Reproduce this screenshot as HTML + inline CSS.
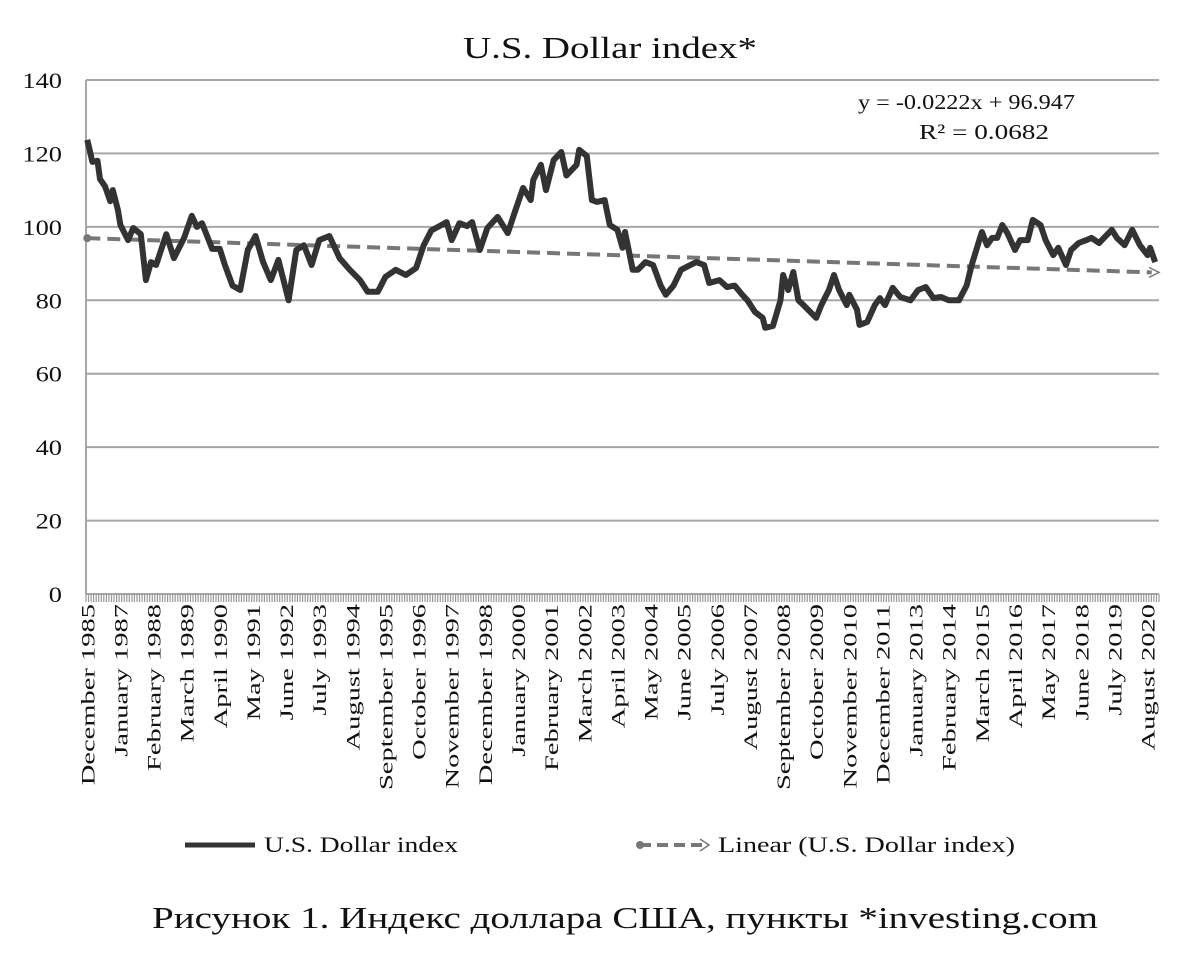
<!DOCTYPE html>
<html><head><meta charset="utf-8"><style>
body{margin:0;background:#fff}
svg text{font-family:"Liberation Serif","DejaVu Serif",serif;fill:#111}
</style></head><body>
<svg id="c" width="1193" height="971" viewBox="0 0 1193 971">
<text x="463" y="58" font-size="31" textLength="294" lengthAdjust="spacingAndGlyphs">U.S. Dollar index*</text>
<g id="grid"></g>
<g id="yt"></g>
<g id="xt"></g>
<g id="plot"></g>
<text x="858" y="109" font-size="21" textLength="217" lengthAdjust="spacingAndGlyphs">y = -0.0222x + 96.947</text>
<text x="919" y="139" font-size="21" textLength="130" lengthAdjust="spacingAndGlyphs">R² = 0.0682</text>
<g>
<line x1="185" y1="845" x2="255" y2="845" stroke="#333" stroke-width="5"/>
<text x="264" y="852" font-size="22" textLength="194" lengthAdjust="spacingAndGlyphs">U.S. Dollar index</text></g>
<g>
<line x1="640" y1="845" x2="702" y2="845" stroke="#777" stroke-width="4" stroke-dasharray="11,6"/>
<circle cx="640" cy="845" r="4" fill="#777"/>
<path d="M700 839 L709 845 L700 851" fill="none" stroke="#777" stroke-width="1.5"/>
<text x="718" y="852" font-size="22" textLength="297" lengthAdjust="spacingAndGlyphs">Linear (U.S. Dollar index)</text></g>
<text x="152" y="928" font-size="31" textLength="946" lengthAdjust="spacingAndGlyphs">Рисунок 1. Индекс доллара США, пункты *investing.com</text>
</svg>
<script>
const yTicks=[0,20,40,60,80,100,120,140];
const monthNames=["January","February","March","April","May","June","July","August","September","October","November","December"];
const months=[0,2,4,5,7,9,10,12,13,16,18,21,23,25,27,31,34,38,41,43,45,49,52,54,57,60,63,66,69,72,75,79,82,85,88,91,95,99,103,107,110,114,117,121,125,129,132,135,139,141,143,146,149,151,154,157,161,165,168,171,174,175,178,180,183,186,188,192,193,196,198,200,203,205,208,210,211,214,216,219,222,225,227,230,233,236,239,242,244,248,251,254,257,259,262,265,266,269,272,273,275,277,279,281,286,288,291,293,295,298,299,302,303,306,309,311,313,316,319,323,326,329,332,335,338,342,345,347,350,351,353,355,357,359,361,364,366,369,371,374,376,379,381,384,386,389,392,394,397,400,402,404,407,410,413,416,417,419];
const values=[123.7,117.7,118,113,111,107,110,104.6,100.5,96.4,99.7,98,85.5,90.4,89.6,98,91.5,97,103,100,101,94,94,89.6,84,82.8,93.7,97.5,90.4,85.5,91,80,93.7,95,89.6,96.4,97.5,91.5,88.3,85.5,82.3,82.3,86.4,88.3,86.9,88.8,95,99,100.5,101.3,96.4,101,100.2,101.3,93.7,99.7,102.7,98.3,104.6,110.6,107.3,112.8,116.9,110,118.2,120.4,114,116.9,121,119.3,107.3,106.8,107.3,100.5,99.2,94.3,98.6,88.3,88.3,90.4,89.6,84,81.5,84,88.3,89.4,90.4,89.6,84.7,85.5,83.6,84,81.5,80,76.8,75.2,72.5,73,80,86.9,82.8,87.7,80,78.7,75.2,78.7,82.8,86.9,82.8,78.7,81.5,77.4,73.3,74.1,78.7,80.6,78.7,83.4,80.9,80,82.8,83.6,80.6,80.9,80,80,84,89.6,96.4,98.6,95,97,97,100.5,98.3,93.7,96.4,96.4,101.9,100.5,96.4,92.3,94.3,89.6,93.7,95.6,96.4,97,95.6,97.8,99.2,97,95,99.2,95,92.3,94.3,90.4];
const trendSlope=[-0.0222];
const trendIntercept=[96.947];
const NM=421;
const L=86,R=1159,T=80,B=594;
const X=m=>L+(m+0.5)*(R-L)/NM;
const Y=v=>B-(v/140)*(B-T);
const ns="http://www.w3.org/2000/svg";
function mk(t,p,a){const e=document.createElementNS(ns,t);for(const k in a)e.setAttribute(k,a[k]);p.appendChild(e);return e;}
const grid=document.getElementById('grid'),yt=document.getElementById('yt'),xt=document.getElementById('xt'),plot=document.getElementById('plot');
yTicks.forEach(v=>{
 if(v>0){const g=mk('line',grid,{x1:L,x2:R,y1:Y(v),y2:Y(v),stroke:'#a6a6a6','stroke-width':2});
 
 }
 const t=mk('text',yt,{x:62,y:Y(v)+8,'font-size':22,'text-anchor':'end'});t.textContent=v;
 
 
 const w=t.getComputedTextLength()*1.2;
 t.setAttribute('x',62-w);t.setAttribute('text-anchor','start');
 t.setAttribute('textLength',w);t.setAttribute('lengthAdjust','spacingAndGlyphs');
});
mk('line',grid,{x1:L,x2:L,y1:T,y2:B,stroke:'#a6a6a6','stroke-width':2});
mk('line',grid,{x1:L,x2:R,y1:B,y2:B,stroke:'#a6a6a6','stroke-width':2});
let d='';for(let m=0;m<=NM;m++){const x=(L+m*(R-L)/NM).toFixed(1);d+=`M${x} ${B}V${B+8}`;}
mk('path',grid,{d:d,stroke:'#999','stroke-width':1.2});
for(let m=0;m<=416;m+=13){
 const mon=(11+m)%12,yr=1985+Math.floor((11+m)/12);
 const x=X(m)+7;
 const t=mk('text',xt,{x:x,y:604,'font-size':19,'text-anchor':'start'});
 t.textContent=monthNames[mon]+' '+yr;
 
 
 const w=t.getComputedTextLength()*1.5;
 t.setAttribute('x',x-w);
 t.setAttribute('textLength',w);t.setAttribute('lengthAdjust','spacingAndGlyphs');
 t.setAttribute('transform',`rotate(-90 ${x} 604)`);
}
const x1=0,x2=NM-1;
const tl=mk('line',plot,{x1:X(x1),y1:Y(trendSlope[0]*1+trendIntercept[0]),x2:X(x2)-6,y2:Y(trendSlope[0]*NM+trendIntercept[0]),stroke:'#777','stroke-width':4,'stroke-dasharray':'13,7'});


mk('circle',plot,{cx:X(0),cy:Y(trendSlope[0]+trendIntercept[0]),r:4,fill:'#777'});
const ey=Y(trendSlope[0]*NM+trendIntercept[0]);
mk('path',plot,{d:`M${R-10} ${ey-5} L${R} ${ey} L${R-10} ${ey+5}`,fill:'none',stroke:'#777','stroke-width':1.5});
const pts=months.map((m,i)=>X(m).toFixed(1)+','+Y(values[i]).toFixed(1)).join(' ');
const pl=mk('polyline',plot,{points:pts,fill:'none',stroke:'#333','stroke-width':6,'stroke-linejoin':'round'});


</script>
</body></html>
